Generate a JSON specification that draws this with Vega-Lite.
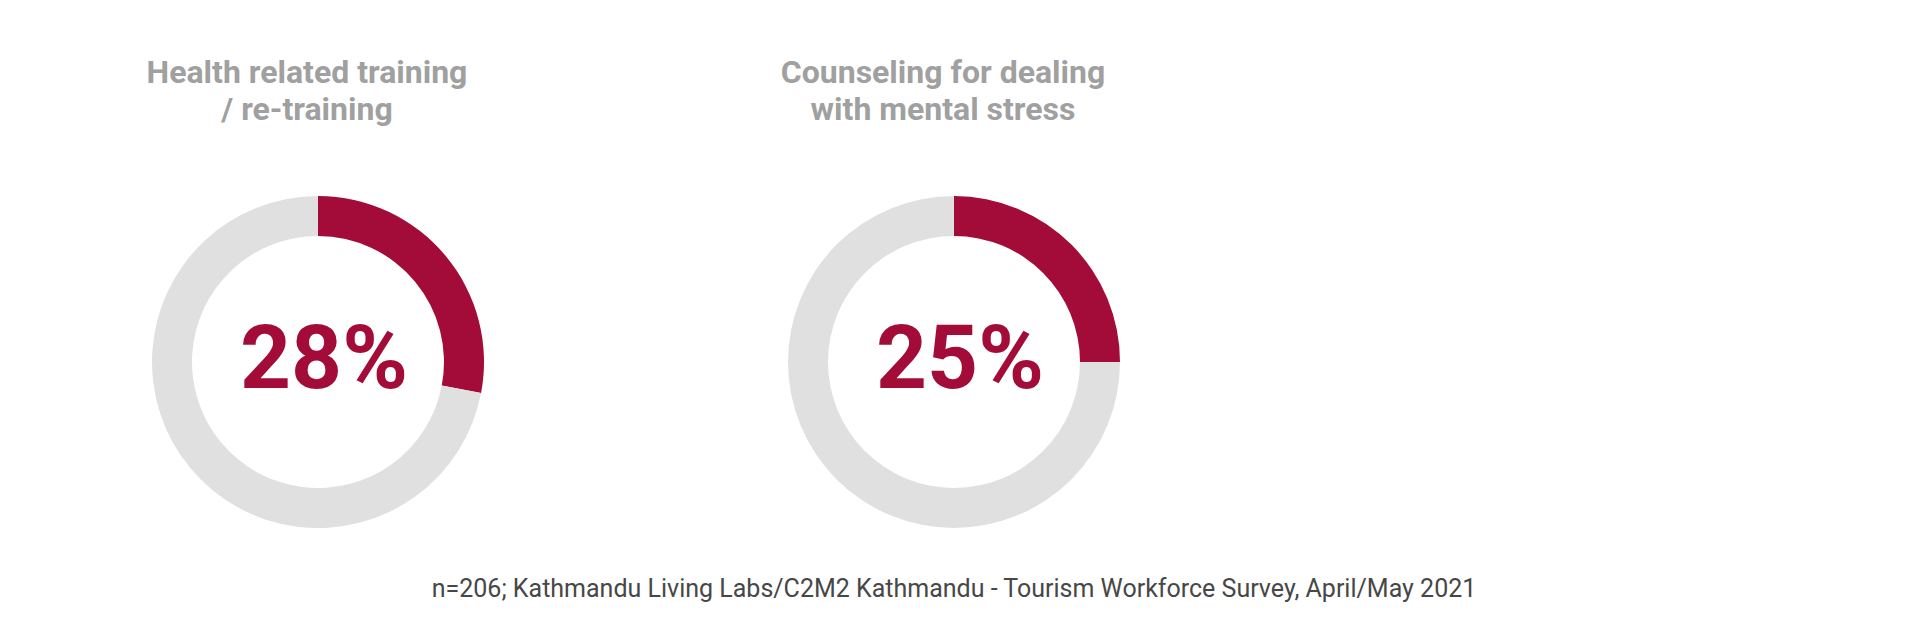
{
  "$schema": "https://vega.github.io/schema/vega-lite/v6.json",
  "background": "white",
  "padding": {"left": 0, "right": 0, "top": 57, "bottom": 0},
  "config": {
    "view": {"stroke": null},
    "concat": {"spacing": 0},
    "title": {"font": "Roboto"}
  },
  "datasets": {
    "health": [
      {"category": "Yes", "share": 0.28},
      {"category": "No", "share": 0.72}
    ],
    "counsel": [
      {"category": "Yes", "share": 0.25},
      {"category": "No", "share": 0.75}
    ]
  },
  "title": {
    "text": "n=206; Kathmandu Living Labs/C2M2 Kathmandu - Tourism Workforce Survey, April/May 2021",
    "orient": "bottom",
    "anchor": "middle",
    "dx": 318,
    "offset": 45,
    "font": "Roboto",
    "fontSize": 25,
    "fontWeight": "normal",
    "color": "#474747"
  },
  "hconcat": [
    {
      "width": 636,
      "height": 340,
      "data": {"name": "health"},
      "title": {
        "text": ["Health related training", "/ re-training"],
        "anchor": "middle",
        "dx": -11,
        "offset": 65,
        "fontSize": 32,
        "fontWeight": "bold",
        "lineHeight": 37,
        "color": "#a0a0a0"
      },
      "layer": [
        {
          "mark": {"type": "arc", "outerRadius": 166, "innerRadius": 126},
          "encoding": {
            "theta": {"field": "share", "type": "quantitative", "stack": true},
            "order": {"field": "category", "sort": "descending"},
            "color": {
              "field": "category",
              "type": "nominal",
              "scale": {"domain": ["Yes", "No"], "range": ["#a30c38", "#e0e0e0"]},
              "legend": null
            }
          }
        },
        {
          "transform": [{"filter": "datum.category === 'Yes'"}],
          "mark": {
            "type": "text",
            "font": "Roboto",
            "fontWeight": "bold",
            "fontSize": 89,
            "align": "center",
            "baseline": "alphabetic",
            "dx": 6,
            "dy": 26,
            "color": "#a30c38"
          },
          "encoding": {
            "text": {"field": "share", "type": "quantitative", "format": ".0%"}
          }
        }
      ]
    },
    {
      "width": 636,
      "height": 340,
      "data": {"name": "counsel"},
      "title": {
        "text": ["Counseling for dealing", "with mental stress"],
        "anchor": "middle",
        "dx": -11,
        "offset": 65,
        "fontSize": 32,
        "fontWeight": "bold",
        "lineHeight": 37,
        "color": "#a0a0a0"
      },
      "layer": [
        {
          "mark": {"type": "arc", "outerRadius": 166, "innerRadius": 126},
          "encoding": {
            "theta": {"field": "share", "type": "quantitative", "stack": true},
            "order": {"field": "category", "sort": "descending"},
            "color": {
              "field": "category",
              "type": "nominal",
              "scale": {"domain": ["Yes", "No"], "range": ["#a30c38", "#e0e0e0"]},
              "legend": null
            }
          }
        },
        {
          "transform": [{"filter": "datum.category === 'Yes'"}],
          "mark": {
            "type": "text",
            "font": "Roboto",
            "fontWeight": "bold",
            "fontSize": 89,
            "align": "center",
            "baseline": "alphabetic",
            "dx": 6,
            "dy": 26,
            "color": "#a30c38"
          },
          "encoding": {
            "text": {"field": "share", "type": "quantitative", "format": ".0%"}
          }
        }
      ]
    }
  ]
}
